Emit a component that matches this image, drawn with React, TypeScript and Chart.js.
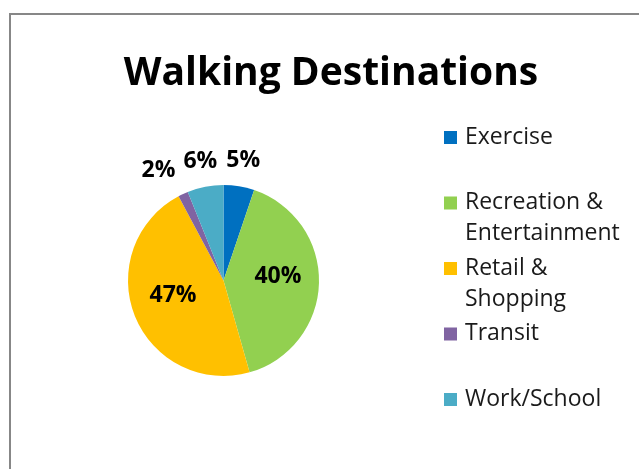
import React, { useEffect, useRef } from "react";
import { Chart, registerables } from "chart.js";

Chart.register(...registerables);

const titleText = "Walking Destinations";
const categories = ["Exercise", "Recreation & Entertainment", "Retail & Shopping", "Transit", "Work/School"];
const shares = [5.2, 40.4, 46.6, 1.7, 6.1];
const colors = ["#0070C0", "#92D050", "#FFC000", "#8064A2", "#4BACC6"];

const FONT = "'Open Sans', Lato, sans-serif";

const decorPlugin = {
  id: "decor",
  afterDraw(chart: any) {
    const ctx = chart.ctx as CanvasRenderingContext2D;
    ctx.save();
    // frame
    ctx.strokeStyle = "#878787";
    ctx.lineWidth = 2;
    ctx.beginPath();
    ctx.moveTo(10, 480);
    ctx.lineTo(10, 14);
    ctx.lineTo(650, 14);
    ctx.stroke();

    // title
    ctx.fillStyle = "#000";
    ctx.font = `bold 39px ${FONT}`;
    ctx.textAlign = "center";
    ctx.textBaseline = "alphabetic";
    ctx.fillText(titleText, 331, 85);

    // legend
    const labels: string[] = chart.data.labels;
    const bg: string[] = chart.data.datasets[0].backgroundColor;
    ctx.font = `23px ${FONT}`;
    ctx.textAlign = "left";
    ctx.textBaseline = "middle";
    const maxW = 160;
    labels.forEach((lab, i) => {
      const y0 = 137 + i * 65.5;
      ctx.fillStyle = bg[i];
      ctx.fillRect(444, y0 - 6, 13, 13);
      const words = lab.split(" ");
      const lines: string[] = [];
      let cur = "";
      words.forEach((w) => {
        const test = cur ? cur + " " + w : w;
        if (cur && ctx.measureText(test).width > maxW) {
          lines.push(cur);
          cur = w;
        } else cur = test;
      });
      if (cur) lines.push(cur);
      ctx.fillStyle = "#1a1a1a";
      lines.forEach((ln, j) => ctx.fillText(ln, 465, y0 + j * 31));
    });

    // value labels
    const meta = chart.getDatasetMeta(0);
    const data: number[] = chart.data.datasets[0].data;
    const total = data.reduce((a, b) => a + b, 0);
    ctx.font = `bold 23px ${FONT}`;
    ctx.fillStyle = "#000";
    ctx.textAlign = "center";
    const items: { x: number; y: number; t: string; w: number; out: boolean }[] = [];
    meta.data.forEach((arc: any, i: number) => {
      const p = arc.getProps(["x", "y", "startAngle", "endAngle", "outerRadius"], true);
      const mid = (p.startAngle + p.endAngle) / 2;
      const pct = (data[i] / total) * 100;
      const out = pct < 10;
      const r = out ? p.outerRadius + 26 : p.outerRadius * 0.57;
      const t = Math.round(pct) + "%";
      items.push({ x: p.x + Math.cos(mid) * r, y: p.y + Math.sin(mid) * r - (out ? 0 : 5), t, w: ctx.measureText(t).width, out });
    });
    for (let i = items.length - 2; i >= 0; i--) {
      const a = items[i], b = items[i + 1];
      if (a.out && b.out && a.x < b.x && a.x + a.w / 2 > b.x - b.w / 2 - 8) {
        a.x = b.x - b.w / 2 - 8 - a.w / 2;
      }
    }
    items.forEach((it) => ctx.fillText(it.t, it.x, it.y));
    ctx.restore();
  },
};

export default function App() {
  const ref = useRef<HTMLCanvasElement>(null);
  useEffect(() => {
    document.body.style.margin = "0";
    const chart = new Chart(ref.current!, {
      type: "pie",
      data: {
        labels: categories,
        datasets: [{ data: shares, backgroundColor: colors, borderWidth: 0 }],
      },
      options: {
        animation: false,
        responsive: false,
        layout: { padding: { left: 127, right: 319, top: 185, bottom: 93 } },
        plugins: { legend: { display: false }, title: { display: false }, tooltip: { enabled: false } },
      },
      plugins: [decorPlugin],
    });
    return () => chart.destroy();
  }, []);
  return (
    <div style={{ position: "fixed", left: 0, top: 0, width: 639, height: 469, background: "#fff" }}>
      <canvas ref={ref} width={639} height={469} style={{ width: 639, height: 469 }} />
    </div>
  );
}
